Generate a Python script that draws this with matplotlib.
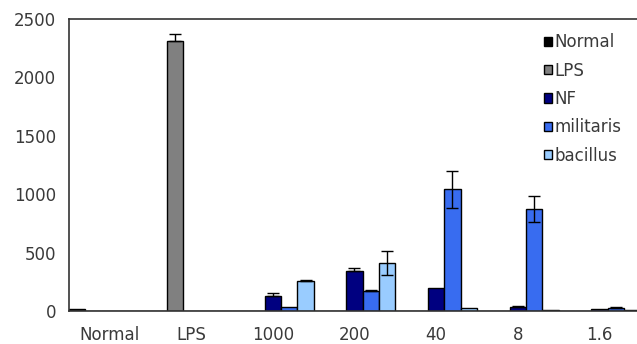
import numpy as np
import matplotlib
matplotlib.use("Agg")
import matplotlib.pyplot as plt

categorias = ["Normal", "LPS", "1000", "200", "40", "8", "1.6"]
series = ["Normal", "LPS", "NF", "militaris", "bacillus"]
colores = ["#000000", "#808080", "#000080", "#386cf0", "#99ccff"]

# valores (por serie, en el orden de categorias)
normal = [15, 0, 0, 0, 0, 0, 0]
lps = [0, 2310, 0, 0, 0, 0, 0]
nf = [0, 0, 128, 345, 200, 35, 15]
militaris = [0, 0, 30, 168, 1044, 873, 25]
bacillus = [0, 0, 257, 408, 25, 10, 10]

err_normal = [0, 0, 0, 0, 0, 0, 0]
err_lps = [0, 60, 0, 0, 0, 0, 0]
err_nf = [0, 0, 30, 25, 0, 5, 0]
err_militaris = [0, 0, 0, 8, 157, 110, 10]
err_bacillus = [0, 0, 10, 105, 0, 0, 0]
# lado inferior de la barra de error (solo visible en algunas)
err_bajo_militaris = [0, 0, 0, 0, 160, 110, 0]
err_bajo_bacillus = [0, 0, 0, 100, 0, 0, 0]

datos = [normal, lps, nf, militaris, bacillus]
errores_alto = [err_normal, err_lps, err_nf, err_militaris, err_bacillus]
errores_bajo = [err_normal, [0] * 7, [0] * 7, err_bajo_militaris, err_bajo_bacillus]

color_texto = "#3a3a3a"
fig = plt.figure(figsize=(6.37, 3.44), dpi=100)
ax = fig.add_axes([0.108, 0.096, 0.897, 0.849])

x = np.arange(len(categorias))
ancho = 0.2
for i, (nombre, valores) in enumerate(zip(series, datos)):
    pos = x + (i - 2) * ancho
    ax.bar(pos, valores, ancho, color=colores[i], edgecolor="black",
           linewidth=1.0, label=nombre, zorder=2)
    mask = [(a > 0 or b > 0) for a, b in zip(errores_bajo[i], errores_alto[i])]
    if any(mask):
        p = pos[mask]
        v = np.array(valores)[mask]
        lo = np.array(errores_bajo[i])[mask]
        hi = np.array(errores_alto[i])[mask]
        ax.errorbar(p, v, yerr=[lo, hi], fmt="none", ecolor="black",
                    elinewidth=1.0, capsize=4, capthick=1.0, zorder=3)

ax.set_xlim(-0.5, 6.5)
ax.set_ylim(0, 2500)
ax.set_yticks([0, 500, 1000, 1500, 2000, 2500])
ax.set_xticks(x)
ax.set_xticklabels(categorias)
ax.tick_params(axis="both", labelsize=12, colors=color_texto, length=0)
ax.tick_params(axis="x", pad=11)
ax.tick_params(axis="y", pad=9)
for lado in ["left", "bottom", "top"]:
    ax.spines[lado].set_color("#333333")
    ax.spines[lado].set_linewidth(1.2)
ax.spines["right"].set_visible(False)

leg = ax.legend(loc="upper right", bbox_to_anchor=(0.985, 0.985), frameon=False,
                fontsize=12, handlelength=0.5, handleheight=0.5,
                handletextpad=0.15, labelspacing=0.62, borderaxespad=0.2)
for t in leg.get_texts():
    t.set_color(color_texto)

fig.savefig("out.png", dpi=100)
